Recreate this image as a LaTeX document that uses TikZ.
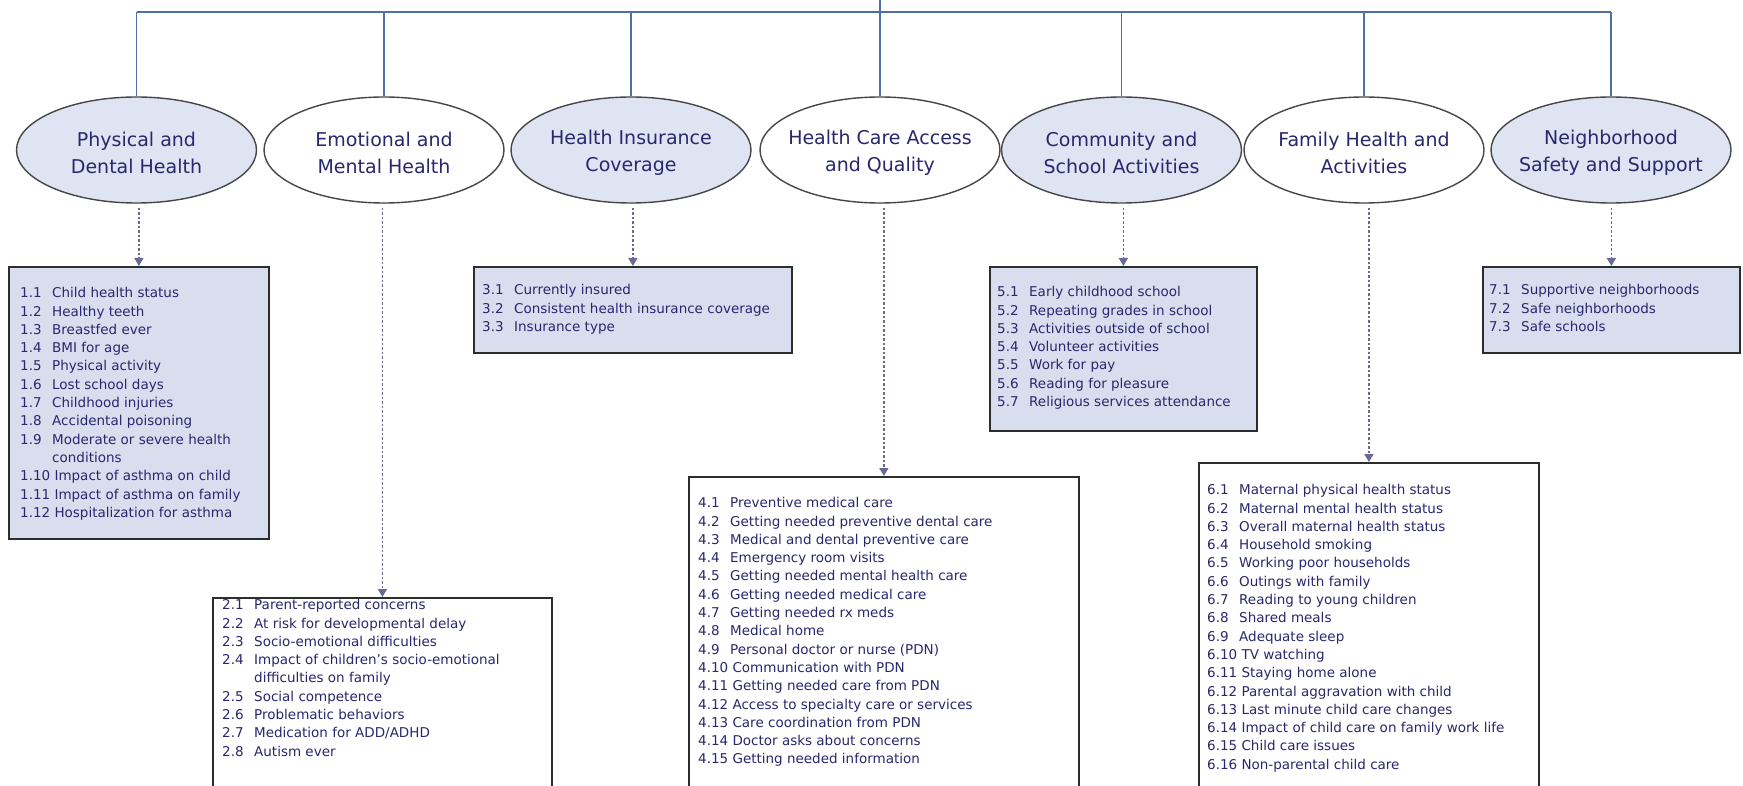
\documentclass[tikz,border=0pt]{standalone}
\usepackage{fontspec}
\setmainfont{DejaVu Sans}
\usetikzlibrary{shapes.geometric,arrows.meta,calc}
\definecolor{txt}{RGB}{40,40,110}
\definecolor{ellfill}{RGB}{222,228,242}
\definecolor{boxfill}{RGB}{216,222,238}
\definecolor{ellline}{RGB}{70,70,70}
\definecolor{boxline}{RGB}{45,45,45}
\definecolor{treeblue}{RGB}{80,110,170}
\definecolor{arrgray}{RGB}{105,105,150}
\newcommand\itm[2]{\setbox0\hbox{#1\ }\ifdim\wd0<32pt\hbox to 32pt{#1\hfil}\else\box0\fi#2}
\tikzset{
  ell/.style={ellipse, draw=ellline, line width=1.4pt, minimum width=240pt, minimum height=106pt, inner sep=0pt},
  ellA/.style={ell, fill=ellfill},
  ellB/.style={ell, fill=white},
  elltext/.style={text=txt, font=\fontsize{19}{27}\selectfont, align=center, inner sep=0pt},
  listbox/.style={draw=boxline, line width=1.8pt, anchor=north west, inner sep=0pt},
  listtext/.style={text=txt, font=\fontsize{13.5}{18.3}\selectfont, anchor=north west, inner sep=0pt},
  tree/.style={draw=treeblue, line width=1.4pt},
  darr/.style={draw=arrgray, line width=1.6pt, dash pattern=on 2.5pt off 2pt, -{Triangle[width=9pt,length=8pt]}}
}
\begin{document}
\begin{tikzpicture}[x=1pt,y=-1pt]
\useasboundingbox (0,0) rectangle (1743,786);
\clip (0,0) rectangle (1743,786);
\fill[white] (0,0) rectangle (1743,786);

% ellipses
\node[ellA] (e1) at (136.5,150) {};
\node[ellB] (e2) at (384,150) {};
\node[ellA] (e3) at (631,150) {};
\node[ellB] (e4) at (880,150) {};
\node[ellA] (e5) at (1121.5,150) {};
\node[ellB] (e6) at (1364,150) {};
\node[ellA] (e7) at (1611,150) {};
\node[elltext] (t1) at ($(e1.center)+(0,3)$) {Physical and\\Dental Health};
\node[elltext] (t2) at ($(e2.center)+(0,3)$) {Emotional and\\Mental Health};
\node[elltext] (t3) at ($(e3.center)+(0,3)$) {Health Insurance\\Coverage};
\node[elltext] (t4) at ($(e4.center)+(0,3)$) {Health Care Access\\and Quality};
\node[elltext] (t5) at ($(e5.center)+(0,3)$) {Community and\\School Activities};
\node[elltext] (t6) at ($(e6.center)+(0,3)$) {Family Health and\\Activities};
\node[elltext] (t7) at ($(e7.center)+(0,3)$) {Neighborhood\\Safety and Support};

% tree connectors
\coordinate (root) at (880,-5);
\coordinate (bar) at (880,12);
\draw[tree] (root) -- (bar);
\draw[tree] (e1.north |- bar) -- (e7.north |- bar);
\foreach \e in {e1,e2,e3,e4,e5,e6,e7}{\draw[tree] (\e.north |- bar) -- (\e.north);}

% boxes
\node[listbox, fill=boxfill, minimum width=260pt, minimum height=272pt] (b1) at (8,266) {};
\node[listbox, fill=white, minimum width=339pt, minimum height=205pt] (b2) at (212,597) {};
\node[listbox, fill=boxfill, minimum width=318pt, minimum height=86pt] (b3) at (473,266) {};
\node[listbox, fill=white, minimum width=390pt, minimum height=325pt] (b4) at (688,476) {};
\node[listbox, fill=boxfill, minimum width=267pt, minimum height=164pt] (b5) at (989,266) {};
\node[listbox, fill=white, minimum width=340pt, minimum height=340pt] (b6) at (1198,462) {};
\node[listbox, fill=boxfill, minimum width=257pt, minimum height=86pt] (b7) at (1482,266) {};

% dotted arrows
\foreach \i in {1,...,7}{\draw[darr] ($(b\i.north |- e\i.south)+(0,4)$) -- (b\i.north);}

% list texts
\node[listtext] (l1) at (20,284.7) {\begin{tabular}{@{}l@{}}
\itm{1.1}{Child health status}\\
\itm{1.2}{Healthy teeth}\\
\itm{1.3}{Breastfed ever}\\
\itm{1.4}{BMI for age}\\
\itm{1.5}{Physical activity}\\
\itm{1.6}{Lost school days}\\
\itm{1.7}{Childhood injuries}\\
\itm{1.8}{Accidental poisoning}\\
\itm{1.9}{Moderate or severe health}\\
\itm{}{conditions}\\
\itm{1.10}{Impact of asthma on child}\\
\itm{1.11}{Impact of asthma on family}\\
\itm{1.12}{Hospitalization for asthma}
\end{tabular}};

\node[listtext] (l2) at (222,596.7) {\begin{tabular}{@{}l@{}}
\itm{2.1}{Parent-reported concerns}\\
\itm{2.2}{At risk for developmental delay}\\
\itm{2.3}{Socio-emotional difficulties}\\
\itm{2.4}{Impact of children’s socio-emotional}\\
\itm{}{difficulties on family}\\
\itm{2.5}{Social competence}\\
\itm{2.6}{Problematic behaviors}\\
\itm{2.7}{Medication for ADD/ADHD}\\
\itm{2.8}{Autism ever}
\end{tabular}};

\node[listtext] (l3) at (482,281.7) {\begin{tabular}{@{}l@{}}
\itm{3.1}{Currently insured}\\
\itm{3.2}{Consistent health insurance coverage}\\
\itm{3.3}{Insurance type}
\end{tabular}};

\node[listtext] (l4) at (698,494.7) {\begin{tabular}{@{}l@{}}
\itm{4.1}{Preventive medical care}\\
\itm{4.2}{Getting needed preventive dental care}\\
\itm{4.3}{Medical and dental preventive care}\\
\itm{4.4}{Emergency room visits}\\
\itm{4.5}{Getting needed mental health care}\\
\itm{4.6}{Getting needed medical care}\\
\itm{4.7}{Getting needed rx meds}\\
\itm{4.8}{Medical home}\\
\itm{4.9}{Personal doctor or nurse (PDN)}\\
\itm{4.10}{Communication with PDN}\\
\itm{4.11}{Getting needed care from PDN}\\
\itm{4.12}{Access to specialty care or services}\\
\itm{4.13}{Care coordination from PDN}\\
\itm{4.14}{Doctor asks about concerns}\\
\itm{4.15}{Getting needed information}
\end{tabular}};

\node[listtext] (l5) at (997,283.7) {\begin{tabular}{@{}l@{}}
\itm{5.1}{Early childhood school}\\
\itm{5.2}{Repeating grades in school}\\
\itm{5.3}{Activities outside of school}\\
\itm{5.4}{Volunteer activities}\\
\itm{5.5}{Work for pay}\\
\itm{5.6}{Reading for pleasure}\\
\itm{5.7}{Religious services attendance}
\end{tabular}};

\node[listtext] (l6) at (1207,481.7) {\begin{tabular}{@{}l@{}}
\itm{6.1}{Maternal physical health status}\\
\itm{6.2}{Maternal mental health status}\\
\itm{6.3}{Overall maternal health status}\\
\itm{6.4}{Household smoking}\\
\itm{6.5}{Working poor households}\\
\itm{6.6}{Outings with family}\\
\itm{6.7}{Reading to young children}\\
\itm{6.8}{Shared meals}\\
\itm{6.9}{Adequate sleep}\\
\itm{6.10}{TV watching}\\
\itm{6.11}{Staying home alone}\\
\itm{6.12}{Parental aggravation with child}\\
\itm{6.13}{Last minute child care changes}\\
\itm{6.14}{Impact of child care on family work life}\\
\itm{6.15}{Child care issues}\\
\itm{6.16}{Non-parental child care}
\end{tabular}};

\node[listtext] (l7) at (1489,281.7) {\begin{tabular}{@{}l@{}}
\itm{7.1}{Supportive neighborhoods}\\
\itm{7.2}{Safe neighborhoods}\\
\itm{7.3}{Safe schools}
\end{tabular}};
\end{tikzpicture}
\end{document}
